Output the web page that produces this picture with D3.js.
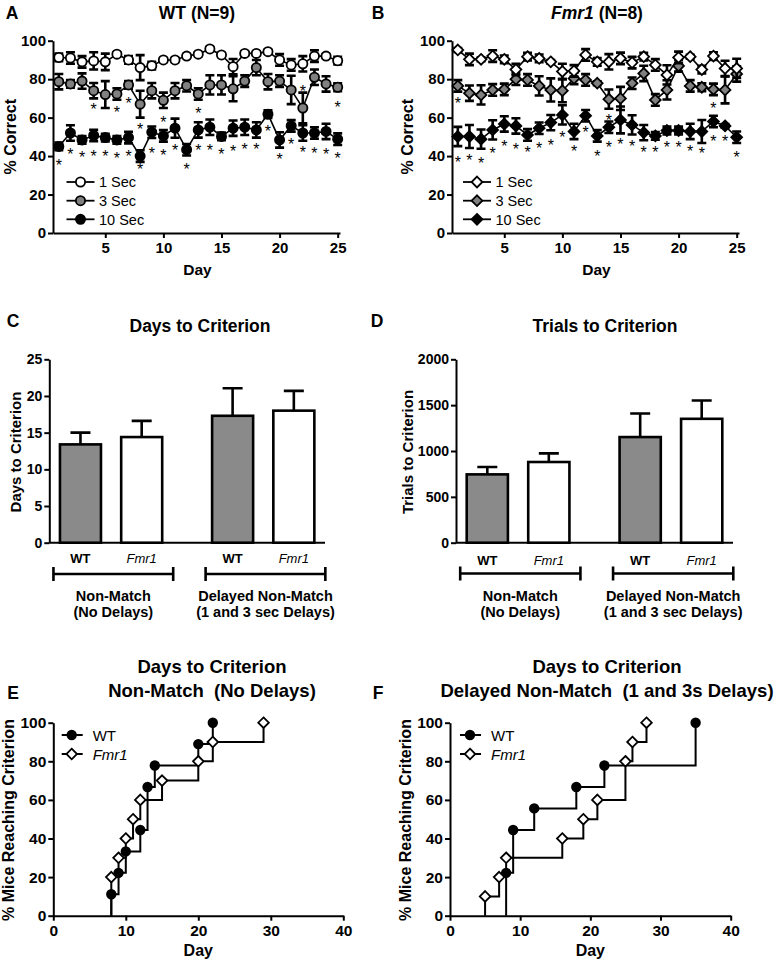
<!DOCTYPE html>
<html><head><meta charset="utf-8">
<script src="https://cdn.jsdelivr.net/npm/d3@7"></script>
<style>body{margin:0;background:#fff} svg{display:block}</style>
</head><body><svg id="c" width="777" height="963"></svg>
<script>
// ---------- DATA ----------
const days = [1,2,3,4,5,6,7,8,9,10,11,12,13,14,15,16,17,18,19,20,21,22,23,24,25];
const delayLabels = ["1 Sec","3 Sec","10 Sec"];

const wt1  = [91.3,91,89,89.5,89,93,90,86,87,90,90,92,93,95.7,92.6,86.5,93.4,93.4,94.3,90,87.4,88,92,92,89.6];
const wt1e = [2,3,3,4.5,4.3,1,2,6.5,2,1,1,1,1,1,1,4,1,1,1,3,3,4,3,1,2];
const wt3  = [78.7,77.5,79,74,72,72.3,77,67,74,69,74,76.6,72.3,77,77,75,79,86,78.7,79,74.4,65,81,77.5,75.8];
const wt3e = [4,2,4,4,7,3,2,7,4,4,4,3,3,5,5,6.5,3,4,4,3,7.4,8,4,4,2];
const wt10  = [45,52,48.4,50.7,49.6,48.4,49.6,40,52.4,50.5,54.5,43.3,53.6,55,50.2,54.5,55,53.6,61.8,48.4,55.7,52,52,52.8,48.8];
const wt10e = [2,4,2,3,2,2,3,3,3,3,5,3,4,4,2,4,4,4,2,4,3,4,3,4,3];

const fm1  = [95.2,90.3,90.3,92,90.3,85,91.7,90.8,89,84,84.3,92.6,89,89,90.8,88.6,91.7,87.4,82.2,91.3,91.7,85,92,85.6,85.6];
const fm1e = [1,3,1,3,2,3,2,2,1,4,3,3,2,4,3,3,2,3,5,3,1,2,2,4,5];
const fm3  = [76.5,72.7,71.8,74.4,74.7,80,79.6,76.5,74.4,74,80.4,79.6,77.9,69.6,70,77.9,83,69.2,74.4,86.9,76.5,75.8,74.7,74.4,82.7];
const fm3e = [3,4,5,3,3,3,3,5,6,6,3,3,1,5,6,3,4,3,5,3,3,2,3,7,4];
const fm10  = [50.2,50.2,48.8,53.6,56.7,55.7,51,54.5,57.4,61.4,52.8,61,50.5,55,58.8,56.2,52.2,50.5,53.3,53.3,52.8,52.8,58,55.7,49.8];
const fm10e = [5,6,5,5,4,4,3,3,4,5,4,3,3,3,7,5,4,2,2,2,4,6,3,1,3];

// significance asterisks: day and level (% correct units)
const wtStar3Days = [4,6,7,8,10,13,22,25];
const wtStar3Y    = [66,64.4,69.2,55.7,59.2,64,75.8,67.1];
const wtStar10Days = days;
const wtStar10Y = [37.2,42.9,41.2,41.9,41.9,40.7,41.9,35,43.3,42.4,45,35,45,45,42.9,44.6,45.3,45.3,54.5,40.1,48.1,43.6,43.3,42.9,40.7];
const fmStar3Days = [1,14,23];
const fmStar3Y    = [69.2,60.6,66.6];
const fmStar10Days = days;
const fmStar10Y = [38.4,39.8,38,43.3,47,45.3,43.6,45.8,47.6,51.6,44.1,54,41.9,46.4,48.1,47,43.6,43.6,46.4,46.4,44.6,43.3,49.8,49.8,41.2];

const pctTicks = [0,20,40,60,80,100];
const dayTicks = [5,10,15,20,25];

// bar charts
const genotypes = ["WT","Fmr1"];
const phases = ["Non-Match","Delayed Non-Match"];
const phaseLine1 = ["Non-Match","Delayed Non-Match"];
const phaseLine2 = ["(No Delays)","(1 and 3 sec Delays)"];
const daysWT = [13.4,17.3], daysWTsem = [1.6,3.75];
const daysFm = [14.4,18.0], daysFmsem = [2.2,2.7];
const trialsWT = [745,1152], trialsWTsem = [81,257];
const trialsFm = [880,1351], trialsFmsem = [94,199];
const daysTicks = [0,5,10,15,20,25];
const trialsTicks = [0,500,1000,1500,2000];

// cumulative curves [day, % mice]
const eWT = [[8,11.1],[9,22.2],[10,33.3],[12,44.4],[13,66.7],[14,77.8],[20,88.9],[22,100]];
const eFm = [[8,20],[9,30],[10,40],[11,50],[12,60],[15,70],[20,80],[22,90],[29,100]];
const fWT = [[8,22.2],[9,44.4],[12,55.6],[18,66.7],[22,77.8],[35,100]];
const fFm = [[5,10],[7,20],[8,30],[16,40],[19,50],[21,60],[25,80],[26,90],[28,100]];
const cumDayTicks = [0,10,20,30,40];

// ---------- DRAW ----------
const FONT = '"Liberation Sans", Arial, Helvetica, sans-serif';
const svg = d3.select("#c").attr("font-family", FONT);
const GRAY = "#808080";
const BARGRAY = "#8a8a8a";

function styleAxis(g, size) {
  g.attr("font-family", FONT).attr("font-size", size).attr("font-weight", "bold");
  g.selectAll("path,line").attr("stroke", "#000").attr("stroke-width", 2);
  g.selectAll("text").attr("fill", "#000");
}
function txt(x, y, s, o = {}) {
  const t = svg.append("text").attr("x", x).attr("y", y).text(s)
    .attr("font-size", o.size || 15).attr("font-weight", o.weight || "bold")
    .attr("text-anchor", o.anchor || "middle").attr("fill", "#000")
    .style("white-space", "pre");
  if (o.italic) t.attr("font-style", "italic");
  return t;
}
function ylabel(x, y, s, size) {
  svg.append("text").attr("transform", `translate(${x},${y}) rotate(-90)`)
    .attr("text-anchor", "middle").attr("dominant-baseline", "central")
    .attr("font-size", size).attr("font-weight", "bold").text(s);
}
function marker(g, shape, x, y, fill, r) {
  if (shape === "circle") {
    g.append("circle").attr("cx", x).attr("cy", y).attr("r", r)
      .attr("fill", fill).attr("stroke", "#000").attr("stroke-width", 1.8);
  } else {
    g.append("path").attr("d", `M${x},${y-r}L${x+r},${y}L${x},${y+r}L${x-r},${y}Z`)
      .attr("fill", fill).attr("stroke", "#000").attr("stroke-width", 1.8);
  }
}

function linePanel(o) {
  const x = d3.scaleLinear().domain([0.5, 25.2]).range(o.xr);
  const y = d3.scaleLinear().domain([0, 100]).range([233, 40.7]);
  const ga = svg.append("g").attr("transform", `translate(${o.xr[0]},0)`)
    .call(d3.axisLeft(y).tickValues(pctTicks).tickSize(5).tickSizeOuter(0).tickPadding(2));
  styleAxis(ga, 15);
  const gb = svg.append("g").attr("transform", `translate(0,233)`)
    .call(d3.axisBottom(x).tickValues(dayTicks).tickSize(5).tickSizeOuter(0).tickPadding(4));
  styleAxis(gb, 15);
  const g = svg.append("g");
  const line = d3.line().x((d, i) => x(days[i])).y(d => y(d));
  o.series.slice().reverse().forEach(s => {
    g.append("path").attr("d", line(s.v)).attr("fill", "none").attr("stroke", "#000").attr("stroke-width", 1.6);
    s.v.forEach((v, i) => {
      const cx = x(days[i]), y1 = y(v + s.e[i]), y2 = y(v - s.e[i]);
      g.append("path").attr("d", `M${cx},${y1}V${y2}M${cx-4.5},${y1}H${cx+4.5}M${cx-4.5},${y2}H${cx+4.5}`)
        .attr("stroke", "#000").attr("stroke-width", 2.6).attr("fill", "none");
    });
    s.v.forEach((v, i) => marker(g, o.shape, x(days[i]), y(v), s.fill, o.r));
  });
  o.stars.forEach(st => st.d.forEach((dd, i) => {
    g.append("text").attr("x", x(dd)).attr("y", y(st.y[i])).attr("dy", "0.58em")
      .attr("text-anchor", "middle").attr("font-size", 16).text("*");
  }));
  // legend
  const ly = [182, 200.7, 219.3];
  o.series.forEach((s, i) => {
    g.append("line").attr("x1", o.lx - 14).attr("x2", o.lx + 14).attr("y1", ly[i]).attr("y2", ly[i])
      .attr("stroke", "#000").attr("stroke-width", 1.8);
    marker(g, o.shape, o.lx, ly[i], s.fill, o.r);
    txt(o.lx + 18.5, ly[i] + 5.3, delayLabels[i], { size: 14.5, weight: "normal", anchor: "start" });
  });
  ylabel(o.ylx, 136.7, "% Correct", 16);
  txt((o.xr[0] + o.xr[1]) / 2 + 1, 275, "Day", { size: 15.5 });
}

linePanel({
  xr: [53, 340], shape: "circle", r: 4.6, lx: 80.5, ylx: 10,
  series: [{ v: wt1, e: wt1e, fill: "#fff" }, { v: wt3, e: wt3e, fill: GRAY }, { v: wt10, e: wt10e, fill: "#000" }],
  stars: [{ d: wtStar3Days, y: wtStar3Y }, { d: wtStar10Days, y: wtStar10Y }]
});
linePanel({
  xr: [452, 739], shape: "diamond", r: 5.4, lx: 477, ylx: 407.5,
  series: [{ v: fm1, e: fm1e, fill: "#fff" }, { v: fm3, e: fm3e, fill: GRAY }, { v: fm10, e: fm10e, fill: "#000" }],
  stars: [{ d: fmStar3Days, y: fmStar3Y }, { d: fmStar10Days, y: fmStar10Y }]
});

// titles & letters
txt(12, 19, "A", { size: 17.5 });
txt(197, 19, "WT (N=9)", { size: 17.5 });
txt(378, 19, "B", { size: 17.5 });
{
  const t = txt(597, 19, "", { size: 17.5 });
  t.append("tspan").attr("font-style", "italic").text("Fmr1");
  t.append("tspan").text(" (N=8)");
}

function barPanel(o) {
  const y = d3.scaleLinear().domain(o.ydom).range([542.7, 359.3]);
  const xo = d3.scaleBand().domain(phases).range(o.xr).paddingInner(0.328).paddingOuter(0.07);
  const xi = d3.scaleBand().domain(genotypes).range([0, xo.bandwidth()]).paddingInner(0.33);
  const ga = svg.append("g").attr("transform", `translate(${o.xr[0]},0)`)
    .call(d3.axisLeft(y).tickValues(o.ticks).tickFormat(d3.format("d")).tickSize(5).tickSizeOuter(0).tickPadding(2));
  styleAxis(ga, 14);
  svg.append("line").attr("x1", o.xr[0]).attr("x2", o.xr[1]).attr("y1", y(0)).attr("y2", y(0))
    .attr("stroke", "#000").attr("stroke-width", 2);
  const g = svg.append("g");
  phases.forEach((p, pi) => {
    genotypes.forEach((gn, gi) => {
      const m = o.means[gi][pi], s = o.sems[gi][pi];
      const bx = xo(p) + xi(gn), bw = xi.bandwidth(), cx = bx + bw / 2;
      g.append("path").attr("d", `M${cx},${y(m)}V${y(m + s)}M${cx-10},${y(m + s)}H${cx+10}`)
        .attr("stroke", "#000").attr("stroke-width", 2.6);
      g.append("rect").attr("x", bx).attr("y", y(m)).attr("width", bw).attr("height", y(0) - y(m))
        .attr("fill", gi === 0 ? BARGRAY : "#fff").attr("stroke", "#000").attr("stroke-width", 2.6);
      txt(cx, o.gy, gn, { size: 13, weight: gi === 0 ? "bold" : "normal", italic: gi === 1 });
    });
    const b1 = xo(p) - 6.5, b2 = xo(p) + xo.bandwidth() + 11, by = o.by;
    g.append("path").attr("d", `M${b1},${by}H${b2}M${b1},${by-7}V${by+7}M${b2},${by-7}V${by+7}`)
      .attr("stroke", "#000").attr("stroke-width", 2.6).attr("fill", "none");
    txt((b1 + b2) / 2, 601, phaseLine1[pi], { size: 14.5 });
    txt((b1 + b2) / 2, 616.5, phaseLine2[pi], { size: 14.5 });
  });
  ylabel(o.ylx, 452, o.ylab, 15);
  txt(o.tx, 332, o.title, { size: 17.5 });
  txt(o.lx, 327, o.letter, { size: 17.5 });
}
barPanel({ xr: [49.3, 325], ydom: [0, 25], ticks: daysTicks, means: [daysWT, daysFm], sems: [daysWTsem, daysFmsem],
  gy: 563, by: 574, ylx: 15, ylab: "Days to Criterion", tx: 200, title: "Days to Criterion", lx: 13, letter: "C" });
barPanel({ xr: [456, 733], ydom: [0, 2000], ticks: trialsTicks, means: [trialsWT, trialsFm], sems: [trialsWTsem, trialsFmsem],
  gy: 565, by: 573.5, ylx: 407, ylab: "Trials to Criterion", tx: 605, title: "Trials to Criterion", lx: 377, letter: "D" });

function stepPanel(o) {
  const x = d3.scaleLinear().domain([0, 40]).range(o.xr);
  const y = d3.scaleLinear().domain([0, 100]).range([915.7, 722.7]);
  const ga = svg.append("g").attr("transform", `translate(${o.xr[0]},0)`)
    .call(d3.axisLeft(y).tickValues(pctTicks).tickSize(5).tickSizeOuter(0).tickPadding(2));
  styleAxis(ga, 15.5);
  const gb = svg.append("g").attr("transform", `translate(0,915.7)`)
    .call(d3.axisBottom(x).tickValues(cumDayTicks).tickSize(5).tickSizeOuter(0).tickPadding(4));
  styleAxis(gb, 15.5);
  const g = svg.append("g");
  const line = d3.line().x(d => x(d[0])).y(d => y(d[1])).curve(d3.curveStepAfter);
  const ser = [{ d: o.wt, shape: "circle", fill: "#000", r: 4.3 }, { d: o.fm, shape: "diamond", fill: "#fff", r: 5.3 }];
  ser.forEach(s => {
    g.append("path").attr("d", line([[s.d[0][0], 0]].concat(s.d))).attr("fill", "none")
      .attr("stroke", "#000").attr("stroke-width", 2);
  });
  ser.forEach(s => s.d.forEach(p => marker(g, s.shape, x(p[0]), y(p[1]), s.fill, s.r)));
  // legend
  [735, 754].forEach((ly, i) => {
    g.append("line").attr("x1", o.lgx - 10).attr("x2", o.lgx + 11).attr("y1", ly).attr("y2", ly)
      .attr("stroke", "#000").attr("stroke-width", 2);
    marker(g, ser[i].shape, o.lgx, ly, ser[i].fill, ser[i].r);
    txt(o.lgx + 21, ly + 5.5, genotypes[i], { size: 15, weight: "normal", anchor: "start", italic: i === 1 });
  });
  ylabel(o.ylx, 820, "% Mice Reaching Criterion", 16);
  txt((o.xr[0] + o.xr[1]) / 2, 956, "Day", { size: 16 });
  txt(o.tx, 673, "Days to Criterion", { size: 18.5 });
  txt(o.tx, 697, o.title2, { size: 18.5 });
  txt(o.lx, 699, o.letter, { size: 17.5 });
}
stepPanel({ xr: [53.3, 343.3], wt: eWT, fm: eFm, lgx: 71.7, ylx: 8.5, tx: 212, title2: "Non-Match  (No Delays)", lx: 13, letter: "E" });
stepPanel({ xr: [450, 730.7], wt: fWT, fm: fFm, lgx: 470, ylx: 405, tx: 607, title2: "Delayed Non-Match  (1 and 3s Delays)", lx: 378, letter: "F" });
</script></body></html>
